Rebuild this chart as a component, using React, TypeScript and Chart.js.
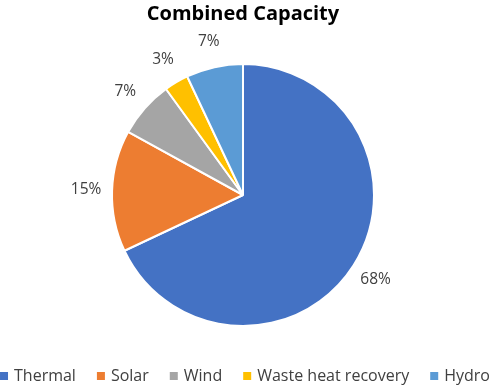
import React, { useEffect, useRef } from "react";
import { Chart, registerables } from "chart.js";

Chart.register(...registerables);

const categories = ["Thermal", "Solar", "Wind", "Waste heat recovery", "Hydro"];
const values = [68, 15, 7, 3, 7];
const percentLabels = ["68%", "15%", "7%", "3%", "7%"];
const colors = ["#4472C4", "#ED7D31", "#A5A5A5", "#FFC000", "#5B9BD5"];

const FONT = "'Open Sans', 'Noto Sans', sans-serif";

const outsideLabels = {
  id: "outsideLabels",
  afterDatasetsDraw(chart: any) {
    const ctx = chart.ctx;
    const meta = chart.getDatasetMeta(0);
    ctx.save();
    ctx.font = `15.5px ${FONT}`;
    ctx.fillStyle = "#404040";
    ctx.textAlign = "center";
    ctx.textBaseline = "middle";
    meta.data.forEach((arc: any, i: number) => {
      const p = arc.getProps(["x", "y", "startAngle", "endAngle", "outerRadius"], true);
      const a = (p.startAngle + p.endAngle) / 2;
      const r = p.outerRadius + 26;
      ctx.fillText(percentLabels[i], p.x + Math.cos(a) * r, p.y + Math.sin(a) * r);
    });
    ctx.restore();
  },
};

const bottomLegend = {
  id: "bottomLegend",
  afterDraw(chart: any) {
    const ctx = chart.ctx;
    ctx.save();
    ctx.font = `16px ${FONT}`;
    ctx.textBaseline = "middle";
    ctx.textAlign = "left";
    const box = 8;
    const boxGap = 6;
    const itemGap = 21;
    const widths = categories.map((c) => box + boxGap + ctx.measureText(c).width);
    const total = widths.reduce((s, w) => s + w, 0) + itemGap * (categories.length - 1);
    let x = 245 - total / 2;
    const y = 376;
    categories.forEach((c, i) => {
      ctx.fillStyle = colors[i];
      ctx.fillRect(x, y - box / 2, box, box);
      ctx.fillStyle = "#404040";
      ctx.fillText(c, x + box + boxGap, y);
      x += widths[i] + itemGap;
    });
    ctx.restore();
  },
};

export default function App() {
  const ref = useRef<HTMLCanvasElement>(null);
  useEffect(() => {
    if (!ref.current) return;
    const chart = new Chart(ref.current, {
      type: "pie",
      data: {
        labels: categories,
        datasets: [
          {
            data: values,
            backgroundColor: colors,
            borderColor: "#ffffff",
            borderWidth: 2,
            radius: 131,
          } as any,
        ],
      },
      options: {
        responsive: false,
        animation: false,
        layout: { padding: { top: 0, bottom: 26, left: 0, right: 3 } },
        plugins: {
          legend: { display: false },
          tooltip: { enabled: false },
          title: {
            display: true,
            text: "Combined Capacity",
            color: "#000000",
            font: { family: FONT, size: 20, weight: "bold" },
            padding: { top: 2, bottom: 0 },
          },
        },
      },
      plugins: [outsideLabels, bottomLegend],
    });
    return () => chart.destroy();
  }, []);
  return (
    <div style={{ position: "absolute", left: 0, top: 0, width: 489, height: 390, background: "#fff" }}>
      <canvas ref={ref} width={489} height={390} />
    </div>
  );
}
